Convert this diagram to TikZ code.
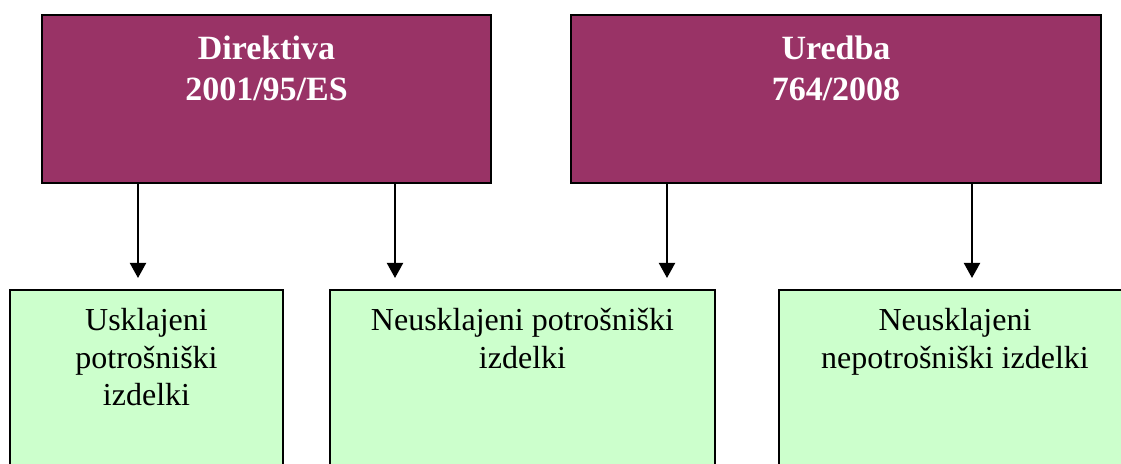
\documentclass[tikz,border=0pt]{standalone}
\usepackage{fontspec}
\setmainfont{Liberation Serif}
\usetikzlibrary{positioning,arrows.meta}
\definecolor{plum}{HTML}{993366}
\definecolor{mint}{HTML}{CCFFCC}
\tikzset{
  actbox/.style={draw=black, line width=1pt, fill=plum, inner sep=0pt},
  itembox/.style={draw=black, line width=1pt, fill=mint, inner sep=0pt},
  acttext/.style={text=white, align=center, inner sep=0pt,
    font=\fontsize{17}{20.5}\selectfont\bfseries},
  itemtext/.style={align=center, inner sep=0pt,
    font=\fontsize{16}{18.75}\selectfont},
  arr/.style={line width=1pt, -{Triangle[width=8pt,length=7.5pt]}}
}
\begin{document}
\begin{tikzpicture}[x=0.5pt, y=-0.5pt]
\useasboundingbox (0,0) rectangle (1121,464);
\clip (0,0) rectangle (1121,464);
\node[actbox, minimum width=224.5pt, minimum height=84pt] (dir) at (266.5,99) {};
\node[acttext, below=11pt of dir.north] (dirtxt) {Direktiva\\2001/95/ES};
\node[actbox, minimum width=265pt, minimum height=84pt] (ured) at (836,99) {};
\node[acttext, below=11pt of ured.north] (uredtxt) {Uredba\\764/2008};
\node[itembox, minimum width=136.5pt, minimum height=125pt] (usk) at (146.5,415) {};
\node[itemtext, below=9.5pt of usk.north] (usktxt) {Usklajeni\\potrošniški\\izdelki};
\node[itembox, minimum width=192.5pt, minimum height=125pt] (neusk) at (522.5,415) {};
\node[itemtext, below=9.5pt of neusk.north] (neusktxt) {Neusklajeni potrošniški\\izdelki};
\node[itembox, minimum width=176pt, minimum height=125pt] (nepot) at (955,415) {};
\node[itemtext, below=9.5pt of nepot.north] (nepottxt) {Neusklajeni\\nepotrošniški izdelki};
% arrow tips
\coordinate (a1) at (138,278);
\coordinate (a2) at (395,278);
\coordinate (a3) at (667,278);
\coordinate (a4) at (972,278);
\draw[arr] (dir.south -| a1) -- (a1);
\draw[arr] (dir.south -| a2) -- (a2);
\draw[arr] (ured.south -| a3) -- (a3);
\draw[arr] (ured.south -| a4) -- (a4);
\end{tikzpicture}
\end{document}
